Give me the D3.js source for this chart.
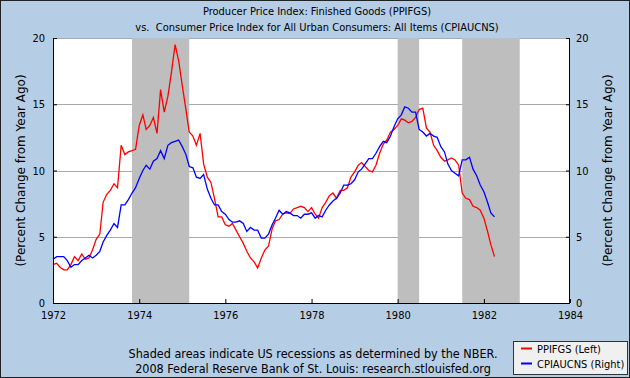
<!DOCTYPE html>
<html>
<head>
<meta charset="utf-8">
<script src="https://cdn.jsdelivr.net/npm/d3@7"></script>
<style>
  body { margin: 0; background: #fff; }
  svg text { font-family: "DejaVu Sans Condensed", "DejaVu Sans", sans-serif; font-stretch: condensed; fill: #000; }
</style>
</head>
<body>
<svg id="chart" width="630" height="378"></svg>
<script>
// monthly year-over-year % change, Jan 1972 .. Apr 1982
var startYear = 1972;
var ppi = [
  2.9, 3.0, 2.7, 2.5, 2.5, 2.9, 3.5, 3.2, 3.7, 3.3, 3.4, 4.0,          // 1972
  4.8, 5.2, 7.6, 8.2, 8.5, 9.0, 8.7, 11.9, 11.2, 11.4, 11.5, 11.6,     // 1973
  13.4, 14.2, 13.1, 13.4, 14.0, 12.8, 16.1, 14.4, 15.6, 17.4, 19.5, 18.3, // 1974
  16.4, 14.6, 12.9, 12.6, 11.9, 12.8, 10.5, 9.5, 9.1, 7.9, 6.5, 6.5,   // 1975
  5.9, 5.8, 6.0, 5.5, 5.0, 4.5, 3.9, 3.4, 3.1, 2.65, 3.4, 4.0,         // 1976
  4.3, 5.6, 6.2, 6.3, 6.7, 6.8, 6.75, 7.1, 7.2, 7.3, 7.2, 6.9,         // 1977
  7.2, 6.7, 6.4, 7.2, 7.6, 8.1, 8.3, 7.9, 8.5, 8.5, 8.7, 9.5,          // 1978
  9.9, 10.4, 10.6, 10.3, 10.0, 9.9, 10.4, 11.3, 12.0, 12.3, 12.9, 13.1, // 1979
  13.4, 13.9, 13.8, 13.6, 13.7, 14.0, 14.6, 14.7, 13.2, 12.9, 11.9, 11.5, // 1980
  11.0, 10.7, 10.8, 10.95, 10.8, 10.4, 8.3, 7.9, 7.8, 7.3, 7.2, 7.0,   // 1981
  6.4, 5.4, 4.4, 3.5                                                   // 1982
];
var cpi = [
  3.3, 3.5, 3.5, 3.5, 3.2, 2.7, 2.9, 2.9, 3.2, 3.4, 3.6, 3.4,          // 1972
  3.6, 3.9, 4.6, 5.1, 5.5, 6.0, 5.7, 7.4, 7.4, 7.8, 8.3, 8.7,          // 1973
  9.4, 10.0, 10.4, 10.1, 10.7, 10.9, 11.5, 10.9, 11.9, 12.1, 12.2, 12.3, // 1974
  11.8, 11.2, 10.3, 10.2, 9.5, 9.4, 9.7, 8.6, 7.9, 7.4, 7.4, 6.9,      // 1975
  6.7, 6.3, 6.1, 6.1, 6.2, 6.0, 5.4, 5.7, 5.5, 5.5, 4.9, 4.9,          // 1976
  5.2, 5.9, 6.4, 7.0, 6.7, 6.9, 6.8, 6.6, 6.6, 6.4, 6.7, 6.7,          // 1977
  6.8, 6.4, 6.6, 6.5, 7.0, 7.4, 7.7, 7.9, 8.3, 8.9, 8.9, 9.0,          // 1978
  9.3, 9.9, 10.1, 10.5, 10.9, 10.9, 11.3, 11.8, 12.2, 12.1, 12.6, 13.3, // 1979
  13.9, 14.2, 14.8, 14.7, 14.4, 14.4, 13.1, 12.9, 12.6, 12.8, 12.6, 12.5, // 1980
  11.8, 11.4, 10.5, 10.0, 9.8, 9.6, 10.8, 10.8, 11.0, 10.1, 9.6, 8.9,  // 1981
  8.4, 7.6, 6.8, 6.5                                                   // 1982
];
// NBER recessions (start, end)
var recessions = [
  ["1973-11-01", "1975-03-01"],
  ["1980-01-01", "1980-07-01"],
  ["1981-07-01", "1982-11-01"]
];
var xTicks = [1972, 1974, 1976, 1978, 1980, 1982, 1984];
var yTicks = [0, 5, 10, 15, 20];

var svg = d3.select("#chart");
var W = 630, H = 378;
var margin = { left: 53, right: 60, top: 38, bottom: 75 };
var x0 = margin.left, x1 = W - margin.right, y0 = H - margin.bottom, y1 = margin.top;

var parse = d3.timeParse("%Y-%m-%d");
var x = d3.scaleTime()
  .domain([new Date(1972, 0, 1), new Date(1984, 0, 1)])
  .range([x0, x1]);
var y = d3.scaleLinear().domain([0, 20]).range([y0, y1]);

function monthDate(i) { return new Date(startYear, i, 1); }

// background + frame
svg.append("rect").attr("x", 0.5).attr("y", 0.5).attr("width", W - 1).attr("height", H - 1)
  .attr("fill", "#b5cde5").attr("stroke", "#222");
svg.append("rect").attr("x", x0).attr("y", y1).attr("width", x1 - x0).attr("height", y0 - y1)
  .attr("fill", "#fff");

// grid
svg.append("g").selectAll("line").data(yTicks.slice(1)).enter().append("line")
  .attr("x1", x0).attr("x2", x1)
  .attr("y1", function(d) { return Math.round(y(d)) + 0.5; })
  .attr("y2", function(d) { return Math.round(y(d)) + 0.5; })
  .attr("stroke", "#aaa").attr("stroke-width", 1);

// recession shading
svg.append("g").selectAll("rect").data(recessions).enter().append("rect")
  .attr("x", function(d) { return x(parse(d[0])); })
  .attr("width", function(d) { return x(parse(d[1])) - x(parse(d[0])); })
  .attr("y", y1).attr("height", y0 - y1)
  .attr("fill", "#bebebe");

// lines
var line = d3.line()
  .x(function(d, i) { return x(monthDate(i)); })
  .y(function(d) { return y(d); });
svg.append("path").datum(ppi).attr("d", line)
  .attr("fill", "none").attr("stroke", "#ff0000").attr("stroke-width", 1.3);
svg.append("path").datum(cpi).attr("d", line)
  .attr("fill", "none").attr("stroke", "#0000ff").attr("stroke-width", 1.3);

// axes
var axisFont = function(g) {
  g.selectAll("text").style("font-size", "11px");
  g.selectAll("line").attr("stroke", "#000");
  g.select(".domain").remove();
};
svg.append("g").attr("transform", "translate(" + x0 + ",0)")
  .call(d3.axisLeft(y).tickValues(yTicks).tickSize(-4).tickPadding(8).tickFormat(d3.format("d")))
  .call(axisFont);
svg.append("g").attr("transform", "translate(" + x1 + ",0)")
  .call(d3.axisRight(y).tickValues(yTicks).tickSize(-4).tickPadding(6).tickFormat(d3.format("d")))
  .call(axisFont);
svg.append("g").attr("transform", "translate(0," + y0 + ")")
  .call(d3.axisBottom(x).tickValues(xTicks.map(function(v) { return new Date(v, 0, 1); }))
    .tickSize(-4).tickPadding(8).tickFormat(d3.timeFormat("%Y")))
  .call(axisFont);

// axis frame lines (left, right, bottom)
svg.append("path")
  .attr("d", "M" + (x0 + 0.5) + "," + y1 + "V" + (y0 + 0.5) + "H" + (x1 - 0.5) + "V" + y1)
  .attr("fill", "none").attr("stroke", "#000").attr("stroke-width", 1);

// axis titles
svg.append("text").attr("transform", "translate(25," + ((y0 + y1) / 2) + ") rotate(-90)")
  .attr("text-anchor", "middle").style("font-size", "12px").style("font-family", "DejaVu Sans")
  .style("font-stretch", "normal")
  .text("(Percent Change from Year Ago)");
svg.append("text").attr("transform", "translate(612," + ((y0 + y1) / 2) + ") rotate(-90)")
  .attr("text-anchor", "middle").style("font-size", "12px").style("font-family", "DejaVu Sans")
  .style("font-stretch", "normal")
  .text("(Percent Change from Year Ago)");

// title
svg.append("text").attr("x", 317).attr("y", 15).attr("text-anchor", "middle").style("font-size", "11px")
  .text("Producer Price Index: Finished Goods (PPIFGS)");
svg.append("text").attr("x", 317).attr("y", 31).attr("text-anchor", "middle").style("font-size", "11px")
  .attr("xml:space", "preserve")
  .text("vs.  Consumer Price Index for All Urban Consumers: All Items (CPIAUCNS)");

// source notes
svg.append("text").attr("x", 313).attr("y", 358).attr("text-anchor", "middle").style("font-size", "12.5px")
  .text("Shaded areas indicate US recessions as determined by the NBER.");
svg.append("text").attr("x", 313).attr("y", 373).attr("text-anchor", "middle").style("font-size", "12.5px")
  .text("2008 Federal Reserve Bank of St. Louis: research.stlouisfed.org");

// legend
var legend = svg.append("g");
legend.append("rect").attr("x", 513.5).attr("y", 341.5).attr("width", 114).attr("height", 33)
  .attr("fill", "#f0f0f0").attr("stroke", "#333");
var legendItems = [
  { name: "PPIFGS (Left)", color: "#ff0000" },
  { name: "CPIAUCNS (Right)", color: "#0000ff" }
];
legendItems.forEach(function(d, i) {
  var ly = 348.5 + i * 15;
  legend.append("line").attr("x1", 521).attr("x2", 532).attr("y1", ly).attr("y2", ly)
    .attr("stroke", d.color).attr("stroke-width", 2);
  legend.append("text").attr("x", 537).attr("y", ly + 4).style("font-size", "11px").text(d.name);
});
</script>
</body>
</html>
